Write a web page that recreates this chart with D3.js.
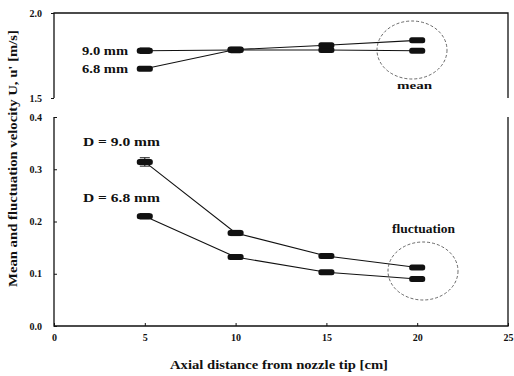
<!DOCTYPE html>
<html><head><meta charset="utf-8">
<script src="https://cdn.jsdelivr.net/npm/d3@7"></script>
<style>
body{margin:0;background:#fff;}
text{font-family:"Liberation Serif","DejaVu Serif",serif;font-weight:bold;fill:#111;}
</style></head><body>
<svg id="c" width="514" height="376"></svg>
<script>
const xVals = [5, 10, 15, 20];
const xTicks = [0, 5, 10, 15, 20, 25];
const meanTicks = [1.5, 2.0];
const flucTicks = [0.0, 0.1, 0.2, 0.3, 0.4];
const mean90 = [1.778, 1.782, 1.782, 1.778];
const mean68 = [1.672, 1.785, 1.81, 1.839];
const mean90Err = [0.016, 0.016, 0.004, 0.004];
const mean68Err = [0.004, 0.006, 0.004, 0.004];
const fluc90 = [0.314, 0.178, 0.134, 0.112];
const fluc68 = [0.210, 0.132, 0.103, 0.090];
const fluc90Err = [0.008, 0.005, 0.003, 0.003];
const fluc68Err = [0.005, 0.003, 0.002, 0.002];

const svg = d3.select("#c");
const x = d3.scaleLinear().domain([0, 25]).range([54, 508]);
const yTop = d3.scaleLinear().domain([1.5, 2.0]).range([98, 13]);
const yBot = d3.scaleLinear().domain([0, 0.4]).range([326, 117]);

function fmt(d){ return d.toFixed(1); }

svg.append("path").attr("d",
  `M${x(0)},${yTop(1.5)}V${yTop(2.0)}H${x(25)}V${yTop(1.5)}`)
  .attr("fill","none").attr("stroke","#111").attr("stroke-width",1.3);
svg.append("path").attr("d",
  `M${x(0)},${yBot(0.4)}V${yBot(0)}H${x(25)}V${yBot(0.4)}`)
  .attr("fill","none").attr("stroke","#111").attr("stroke-width",1.3);

const gTopAx = svg.append("g").attr("transform",`translate(${x(0)},0)`)
  .call(d3.axisLeft(yTop).tickValues(meanTicks).tickFormat(fmt).tickSize(3));
const gBotAx = svg.append("g").attr("transform",`translate(${x(0)},0)`)
  .call(d3.axisLeft(yBot).tickValues(flucTicks).tickFormat(fmt).tickSize(-3));
const gX = svg.append("g").attr("transform",`translate(0,${yBot(0)})`)
  .call(d3.axisBottom(x).tickValues(xTicks).tickFormat(d3.format("d")).tickSize(-3));
[gTopAx,gBotAx,gX].forEach(g=>{
  g.select(".domain").remove();
  g.selectAll("line").attr("stroke","#111");
  g.selectAll("text").attr("font-size",10).style("font-family","Liberation Serif, serif").style("font-weight","bold");
});
gTopAx.selectAll("text").attr("x",-12);
gBotAx.selectAll("text").attr("x",-12);
gX.selectAll("text").attr("y",8);

function series(yScale, vals, errs){
  const line = d3.line().x((d,i)=>x(xVals[i])).y(d=>yScale(d));
  svg.append("path").datum(vals).attr("d",line)
    .attr("fill","none").attr("stroke","#111").attr("stroke-width",1.1);
  const g = svg.append("g");
  vals.forEach((v,i)=>{
    const cx = x(xVals[i]), cy = yScale(v);
    const e = errs[i];
    const y1 = yScale(v+e), y2 = yScale(v-e);
    g.append("line").attr("x1",cx).attr("x2",cx).attr("y1",y1).attr("y2",y2).attr("stroke","#111");
    g.append("line").attr("x1",cx-5).attr("x2",cx+5).attr("y1",y1).attr("y2",y1).attr("stroke","#111");
    g.append("line").attr("x1",cx-5).attr("x2",cx+5).attr("y1",y2).attr("y2",y2).attr("stroke","#111");
    g.append("rect").attr("x",cx-8).attr("y",cy-3).attr("width",16).attr("height",6)
      .attr("rx",2.5).attr("fill","#111");
  });
}
series(yTop, mean90, mean90Err);
series(yTop, mean68, mean68Err);
series(yBot, fluc90, fluc90Err);
series(yBot, fluc68, fluc68Err);

function label(tx, ty, s, len, size, weight){
  svg.append("text").attr("x",tx).attr("y",ty).attr("font-size",size)
    .attr("textLength",len).attr("lengthAdjust","spacingAndGlyphs")
    .style("font-weight",weight||"bold").text(s);
}
label(82, yTop(mean90[0])+4, "9.0 mm", 46, 12);
label(82, yTop(mean68[0])+4, "6.8 mm", 46, 12);
label(397, 89, "mean", 35, 10.5);
label(83, 146, "D = 9.0 mm", 77, 12);
label(83, 202, "D = 6.8 mm", 77, 12);
label(392, 233, "fluctuation", 63, 11.5);

svg.append("ellipse").attr("cx",412).attr("cy",50).attr("rx",35).attr("ry",29)
  .attr("fill","none").attr("stroke","#444").attr("stroke-width",0.8).attr("stroke-dasharray","3,2");
svg.append("ellipse").attr("cx",423).attr("cy",271).attr("rx",35).attr("ry",29)
  .attr("fill","none").attr("stroke","#444").attr("stroke-width",0.8).attr("stroke-dasharray","3,2");

label(170, 369, "Axial distance from nozzle tip [cm]", 218, 13);
svg.append("text").attr("transform","translate(17,287) rotate(-90)")
  .attr("font-size",12.5).attr("textLength",257).attr("lengthAdjust","spacingAndGlyphs")
  .text("Mean and fluctuation velocity  U, u' [m/s]");
</script>
</body></html>
